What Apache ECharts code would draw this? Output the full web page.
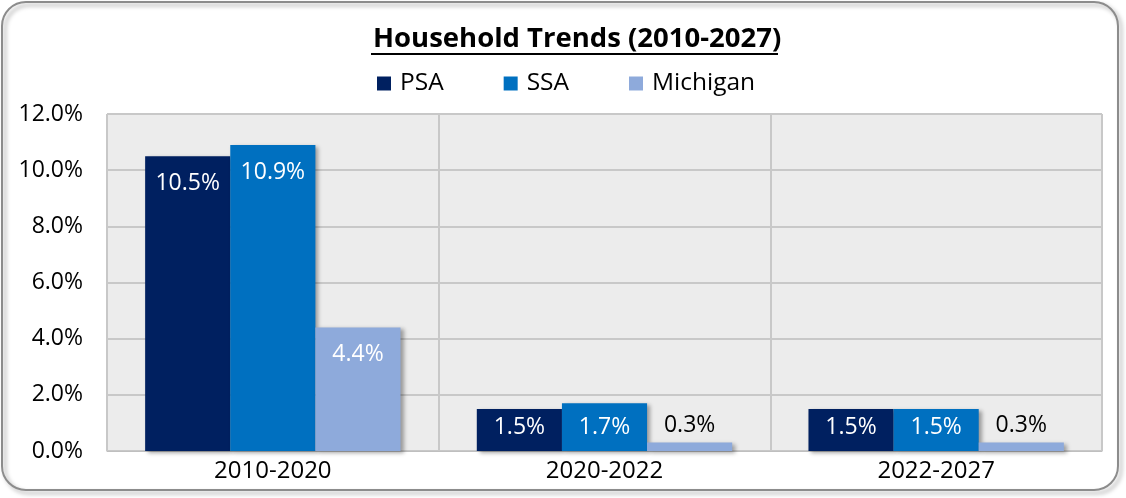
<!DOCTYPE html>
<html>
<head>
<meta charset="utf-8">
<script src="https://cdn.jsdelivr.net/npm/echarts@6/dist/echarts.min.js"></script>
<style>
  html, body { margin: 0; padding: 0; background: #fff; }
  #chart { width: 1126px; height: 498px; }
</style>
</head>
<body>
<div id="chart"></div>
<script>
// 数据
const categories = ['2010-2020', '2020-2022', '2022-2027'];
const psa = [10.5, 1.5, 1.5];
const ssa = [10.9, 1.7, 1.5];
const michigan = [4.4, 0.3, 0.3];
const seriesNames = ['PSA', 'SSA', 'Michigan'];
const colors = ['#002060', '#0070C0', '#8EAADB'];

const FONT = '"Open Sans", "Noto Sans", sans-serif';

const chart = echarts.init(document.getElementById('chart'));

// 小数值把标签放在柱子上方，矮柱子标签按底部对齐
function buildData(values) {
  return values.map(v => {
    if (v < 1) {
      return { value: v, label: { position: 'top', color: '#000', distance: 6 } };
    }
    if (v < 3) {
      return { value: v, label: { position: 'insideBottom', distance: 12 } };
    }
    return v;
  });
}

function makeSeries(name, values, color) {
  return {
    name: name,
    type: 'bar',
    barGap: '0%',
    barCategoryGap: '23%',
    data: buildData(values),
    itemStyle: {
      color: color,
      shadowColor: 'rgba(0,0,0,0.35)',
      shadowBlur: 4,
      shadowOffsetX: 3,
      shadowOffsetY: 2
    },
    label: {
      show: true,
      position: 'insideTop',
      distance: 16,
      color: '#fff',
      fontFamily: FONT,
      fontSize: 23,
      formatter: p => p.value.toFixed(1) + '%'
    }
  };
}

const option = {
  animation: false,
  color: colors,
  title: {
    text: 'Household Trends (2010-2027)',
    left: 368,
    top: 20,
    textStyle: {
      fontFamily: FONT,
      fontWeight: 'bold',
      fontSize: 27.5,
      color: '#000'
    }
  },
  graphic: [
    {
      type: 'rect',
      shape: { x: 2, y: 2, width: 1116, height: 488, r: 24 },
      style: {
        fill: 'none',
        stroke: '#8c8c8c',
        lineWidth: 2,
        shadowColor: 'rgba(0,0,0,0.35)',
        shadowBlur: 4,
        shadowOffsetX: 3,
        shadowOffsetY: 3
      },
      silent: true,
      z: -1
    },
    {
      type: 'line',
      shape: { x1: 371, y1: 54, x2: 778, y2: 54 },
      style: { stroke: '#000', lineWidth: 2 },
      silent: true
    }
  ],
  legend: {
    data: seriesNames,
    top: 66,
    left: 372,
    itemWidth: 14,
    itemHeight: 14,
    itemGap: 60,
    icon: 'rect',
    textStyle: { fontFamily: FONT, fontSize: 24.5, color: '#000', padding: [0, 0, 0, 4] }
  },
  grid: {
    left: 107,
    right: 24,
    top: 114,
    bottom: 47,
    show: true,
    backgroundColor: '#ECECEC',
    borderColor: '#C0C0C0',
    borderWidth: 1
  },
  xAxis: {
    type: 'category',
    data: categories,
    axisLine: { show: true, lineStyle: { color: '#BFBFBF', width: 1 } },
    axisTick: { show: false },
    splitLine: { show: true, lineStyle: { color: '#C8C8C8', width: 2 } },
    axisLabel: { fontFamily: FONT, fontSize: 24, color: '#000', margin: 8 }
  },
  yAxis: {
    type: 'value',
    min: 0,
    max: 12,
    interval: 2,
    axisLine: { show: false },
    axisTick: { show: false },
    splitLine: { lineStyle: { color: '#C8C8C8', width: 2 } },
    axisLabel: {
      fontFamily: FONT,
      fontSize: 23,
      color: '#000',
      margin: 24,
      formatter: v => v.toFixed(1) + '%'
    }
  },
  series: [
    makeSeries(seriesNames[0], psa, colors[0]),
    makeSeries(seriesNames[1], ssa, colors[1]),
    makeSeries(seriesNames[2], michigan, colors[2])
  ]
};

chart.setOption(option);
</script>
</body>
</html>
